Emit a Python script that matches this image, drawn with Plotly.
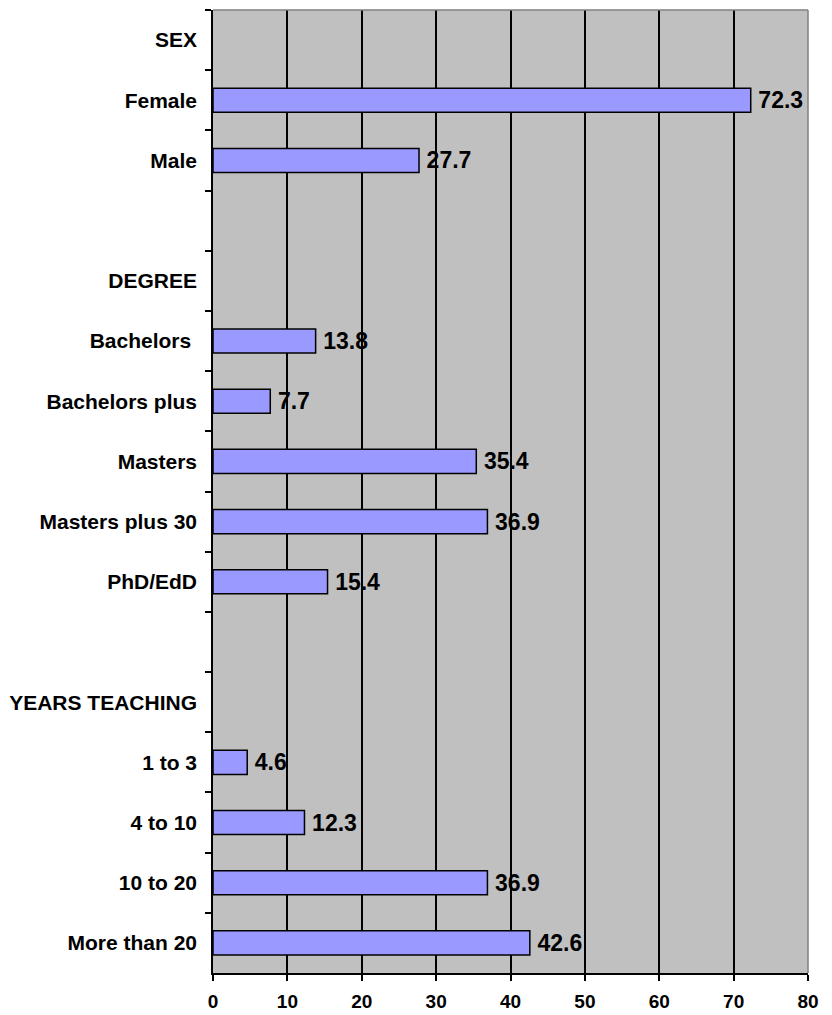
import plotly.graph_objects as go

# Survey respondent profile (percent of respondents)
categories = [
    "SEX", "Female", "Male", " ",
    "DEGREE", "Bachelors ", "Bachelors plus", "Masters", "Masters plus 30", "PhD/EdD", "  ",
    "YEARS TEACHING", "1 to 3", "4 to 10", "10 to 20", "More than 20",
]
percentages = [
    None, 72.3, 27.7, None,
    None, 13.8, 7.7, 35.4, 36.9, 15.4, None,
    None, 4.6, 12.3, 36.9, 42.6,
]
x_ticks = [0, 10, 20, 30, 40, 50, 60, 70, 80]

FONT = "Liberation Sans, Arial, sans-serif"

fig = go.Figure(
    go.Bar(
        x=percentages,
        y=categories,
        orientation="h",
        marker=dict(color="#9999FF", line=dict(color="#000000", width=1.5)),
        texttemplate="\u2009%{x:.1f}",
        textposition="outside",
        constraintext="none",
        cliponaxis=False,
        textfont=dict(family=FONT, size=23, color="#000000", weight="bold"),
        hoverinfo="skip",
    )
)

fig.update_layout(
    width=832,
    height=1015,
    margin=dict(l=213, r=24, t=10, b=42),
    paper_bgcolor="#FFFFFF",
    plot_bgcolor="#C0C0C0",
    bargap=0.6,
    showlegend=False,
    xaxis=dict(
        range=[0, 80],
        tickvals=x_ticks,
        ticks="outside",
        ticklen=6,
        tickwidth=1.5,
        tickcolor="#000000",
        showgrid=True,
        gridcolor="#000000",
        gridwidth=1.5,
        zeroline=False,
        showline=True,
        linecolor="#000000",
        linewidth=1.5,
        automargin=False,
        ticklabelstandoff=4,
        tickfont=dict(family=FONT, size=19, color="#000000", weight="bold"),
        fixedrange=True,
    ),
    yaxis=dict(
        type="category",
        categoryorder="array",
        categoryarray=categories,
        autorange="reversed",
        tickson="boundaries",
        ticks="outside",
        ticklen=6,
        tickwidth=1.5,
        tickcolor="#000000",
        showgrid=False,
        showline=True,
        linecolor="#000000",
        linewidth=1.5,
        automargin=False,
        ticklabelstandoff=10,
        tickfont=dict(family=FONT, size=21, color="#000000", weight="bold"),
        fixedrange=True,
    ),
    shapes=[
        dict(type="line", xref="paper", yref="paper", x0=0, x1=1, y0=1, y1=1,
             line=dict(color="#808080", width=1.5), layer="above"),
        dict(type="line", xref="paper", yref="paper", x0=1, x1=1, y0=0, y1=1,
             line=dict(color="#808080", width=1.5), layer="above"),
    ],
)

fig.write_html("out.html")
